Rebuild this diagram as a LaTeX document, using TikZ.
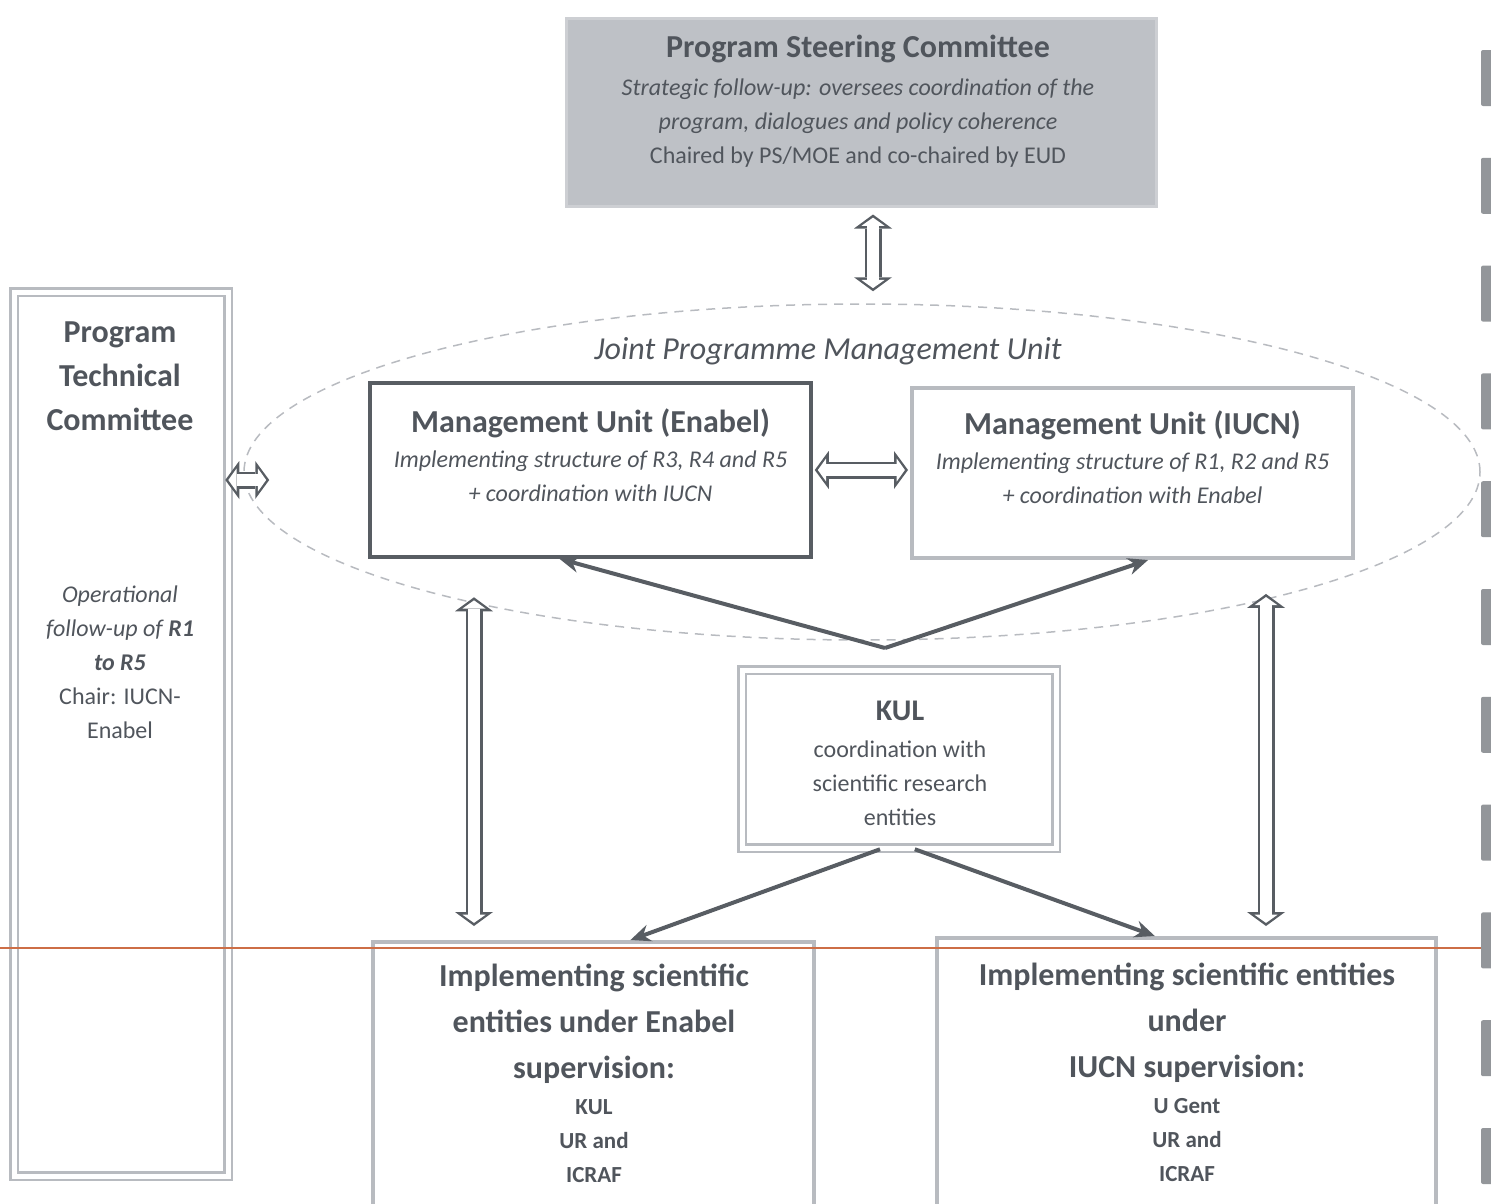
\documentclass[tikz,border=0pt]{standalone}
\usepackage{fontspec}
\setmainfont{Carlito}
\usetikzlibrary{positioning, shapes.geometric, arrows.meta, calc}
\definecolor{mytext}{RGB}{80,85,92}
\definecolor{mydark}{RGB}{88,93,99}
\definecolor{mylight}{RGB}{184,187,192}
\definecolor{myfill}{RGB}{190,193,198}
\definecolor{myorange}{RGB}{205,110,70}
\newcommand{\hd}{\fontsize{32}{44}\selectfont\bfseries}
\newcommand{\sm}{\fontsize{24}{34}\selectfont}
\newcommand{\smb}{\fontsize{23}{34}\selectfont\bfseries}
\tikzset{
  frame/.style={draw=mylight, line width=4, inner sep=0},
  twoline/.style={draw=mylight, line width=2.5, double=white, double distance=5, inner sep=0},
  txt/.style={text=mytext, align=center, font=\sm, inner sep=0},
  hollow/.style 2 args={draw=mydark, line width=17, shorten <=#1, shorten >=#2,
    {Triangle[length=14pt,width=38pt,line width=0pt]}-{Triangle[length=14pt,width=38pt,line width=0pt]},
    postaction={draw=white, line width=12, shorten <=#1+3.1pt, shorten >=#2+3.1pt,
    {Triangle[length=8.2pt,width=23pt,line width=0pt]}-{Triangle[length=8.2pt,width=23pt,line width=0pt]}}},
  heavy/.style={draw=mydark, line width=4, -{Stealth[length=20,width=17]}}
}

\begin{document}
\begin{tikzpicture}[x=1pt, y=-1pt]
\useasboundingbox (0,0) rectangle (1491,1203);

%steering committee
\node [frame, draw=mylight!70, line width=3, fill=myfill, minimum width=590, minimum height=188] (psc) at (861,112) {};
\node [txt] (psctxt) at (858,101) {{\hd Program Steering Committee}\\[4pt]
  {\itshape Strategic follow-up: oversees coordination of the}\\
  {\itshape program, dialogues and policy coherence}\\
  Chaired by PS/MOE and co-chaired by EUD};

%joint unit
\node [ellipse, draw=mylight, line width=1.5, dash pattern=on 9pt off 7pt, minimum width=1236, minimum height=336, inner sep=0] (jpmu) at (862,472) {};
\node [txt, font=\fontsize{32}{36}\selectfont\itshape] (jpmutxt) at (828,351) {Joint Programme Management Unit};

\node [frame, draw=mydark, line width=3.5, minimum width=441, minimum height=174] (mue) at (590.5,470) {};
\node [txt] (muetxt) at (590.5,455) {{\hd Management Unit (Enabel)}\\[1pt]
  {\itshape Implementing structure of R3, R4 and R5}\\
  {\itshape + coordination with IUCN}};

\node [frame, minimum width=441, minimum height=170] (mui) at (1132.5,473) {};
\node [txt] (muitxt) at (1132.5,457) {{\hd Management Unit (IUCN)}\\[1pt]
  {\itshape Implementing structure of R1, R2 and R5}\\
  {\itshape + coordination with Enabel}};

%technical committee
\node [twoline, minimum width=214, minimum height=884] (ptc) at (121,734) {};
\node [txt, font=\hd] (ptctitle) at (120,376) {Program\\Technical\\Committee};
\node [txt] (ptctxt) at (120,662) {{\itshape Operational}\\
  {\itshape follow-up of \textbf{R1}}\\
  {\itshape\bfseries to R5}\\
  Chair: IUCN-\\
  Enabel};

%kul
\node [twoline, minimum width=314, minimum height=178] (kul) at (899,759) {};
\node [txt] (kultxt) at (900,763) {{\fontsize{30}{40}\selectfont\bfseries KUL}\\[3pt]
  coordination with\\
  scientific research\\
  entities};

%implementing entities
\node [frame, minimum width=441, minimum height=276] (bl) at (593.5,1080) {};
\node [txt] (bltxt) at (594,1073) {{\hd Implementing scientific}\\[12pt]
  {\hd entities under Enabel}\\[12pt]
  {\hd supervision:}\\[2pt]
  {\smb KUL}\\
  {\smb UR and}\\
  {\smb ICRAF}};

\node [frame, minimum width=499, minimum height=280] (br) at (1186.5,1078) {};
\node [txt] (brtxt) at (1187,1072) {{\hd Implementing scientific entities}\\[12pt]
  {\hd under}\\[12pt]
  {\hd IUCN supervision:}\\[2pt]
  {\smb U Gent}\\
  {\smb UR and}\\
  {\smb ICRAF}};

\coordinate (kj) at (885,648);

%links
\draw [hollow={7pt}{12pt}] (psc.south -| 873,0) -- (jpmu.north -| 873,0);
\draw [hollow={2pt}{2pt}] (mue.east) -- (mue.east -| mui.west);
\draw [hollow={-4pt}{-26pt}] (ptc.east |- 0,480) -- (jpmu.west |- 0,480);
\draw [hollow={-4pt}{14pt}] (jpmu.198.5 -| 474,0) -- (bl.north -| 474,0);
\draw [hollow={-4pt}{10pt}] (jpmu.-17.3 -| 1266,0) -- (br.north -| 1266,0);

\draw [heavy] (kj) -- ($(mue.south west)!0.43!(mue.south east)$);
\draw [heavy] (kj) -- ($(mui.south west)!0.535!(mui.south east)$);
\draw [heavy] ($(kul.south west)!0.44!(kul.south east)$) -- ($(bl.north west)!0.583!(bl.north east)$);
\draw [heavy] ($(kul.south west)!0.55!(kul.south east)$) -- ($(br.north west)!0.437!(br.north east)$);

%scan marks
\draw [myorange, line width=1.5] (0,948) -- (1491,948);
\foreach \k in {0,...,10}
  \fill [mylight!80!black, rounded corners=2] (1481,50+107.8*\k) rectangle (1495,106+107.8*\k);

\end{tikzpicture}
\end{document}
